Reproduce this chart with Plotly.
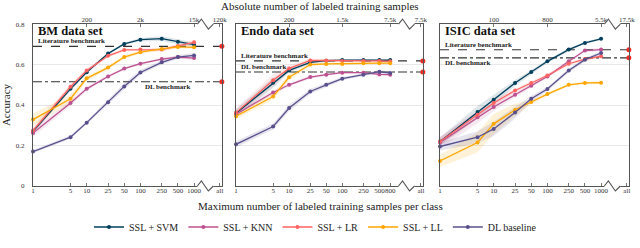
import plotly.graph_objects as go

# ---------------- data ----------------
x_bm = [1, 5, 10, 25, 50, 100, 250, 500, 1000]
x_endo = [1, 5, 10, 25, 50, 100, 250, 500, 800]
x_isic = [1, 5, 10, 25, 50, 100, 250, 500, 1000]
ALL_X = 3020  # position of the "all" tick on the log axis

bm_ticktext = ["1", "5", "10", "25", "50", "100", "250", "500", "1000", "all"]
endo_ticktext = ["1", "5", "10", "25", "50", "100", "250", "500", "800", "all"]
isic_ticktext = ["1", "5", "10", "25", "50", "100", "250", "500", "1000", "all"]

bm_top_vals = [10, 100, 1000, ALL_X]
bm_top_text = ["200", "2k", "15k", "120k"]
endo_top_vals = [10, 100, 800, ALL_X]
endo_top_text = ["200", "1.5k", "7.5k", "7.5k"]
isic_top_vals = [10, 100, 1000, ALL_X]
isic_top_text = ["100", "800", "5.5k", "17.5k"]

# BM
bm_svm = [0.270, 0.480, 0.562, 0.654, 0.702, 0.723, 0.728, 0.712, 0.698]
bm_knn = [0.262, 0.410, 0.480, 0.541, 0.580, 0.604, 0.627, 0.637, 0.632]
bm_lr = [0.274, 0.490, 0.570, 0.643, 0.672, 0.674, 0.674, 0.692, 0.710]
bm_ll = [0.328, 0.431, 0.532, 0.585, 0.637, 0.661, 0.677, 0.687, 0.685]
bm_dl = [0.170, 0.241, 0.313, 0.414, 0.492, 0.561, 0.611, 0.637, 0.645]
bm_svm_sd = [0.010, 0.010, 0.008, 0.006, 0.006, 0.008, 0.012, 0.012, 0.012]
bm_knn_sd = [0.020, 0.012, 0.010, 0.008, 0.006, 0.006, 0.006, 0.008, 0.010]
bm_lr_sd = [0.020, 0.015, 0.010, 0.008, 0.006, 0.006, 0.008, 0.010, 0.012]
bm_ll_sd = [0.030, 0.020, 0.012, 0.010, 0.008, 0.008, 0.008, 0.008, 0.008]
bm_dl_sd = [0.008, 0.008, 0.008, 0.012, 0.015, 0.012, 0.010, 0.010, 0.012]

# Endo
endo_svm = [0.360, 0.510, 0.571, 0.611, 0.619, 0.622, 0.622, 0.622, 0.622]
endo_knn = [0.355, 0.462, 0.500, 0.538, 0.550, 0.560, 0.560, 0.551, 0.550]
endo_lr = [0.363, 0.522, 0.581, 0.620, 0.620, 0.618, 0.618, 0.618, 0.616]
endo_ll = [0.345, 0.442, 0.537, 0.600, 0.603, 0.603, 0.606, 0.607, 0.607]
endo_dl = [0.206, 0.294, 0.385, 0.467, 0.500, 0.530, 0.550, 0.565, 0.558]
endo_svm_sd = [0.020, 0.025, 0.010, 0.008, 0.006, 0.005, 0.005, 0.005, 0.005]
endo_knn_sd = [0.012, 0.010, 0.008, 0.008, 0.006, 0.006, 0.006, 0.006, 0.006]
endo_lr_sd = [0.020, 0.030, 0.015, 0.010, 0.006, 0.006, 0.006, 0.006, 0.006]
endo_ll_sd = [0.015, 0.015, 0.015, 0.008, 0.006, 0.006, 0.006, 0.006, 0.006]
endo_dl_sd = [0.015, 0.015, 0.015, 0.012, 0.010, 0.008, 0.006, 0.008, 0.008]

# ISIC
isic_svm = [0.220, 0.365, 0.426, 0.509, 0.563, 0.616, 0.674, 0.707, 0.727]
isic_knn = [0.215, 0.340, 0.390, 0.451, 0.495, 0.541, 0.616, 0.669, 0.674]
isic_lr = [0.220, 0.352, 0.410, 0.472, 0.509, 0.546, 0.604, 0.627, 0.641]
isic_ll = [0.124, 0.215, 0.307, 0.376, 0.415, 0.454, 0.500, 0.509, 0.510]
isic_dl = [0.195, 0.241, 0.282, 0.363, 0.431, 0.479, 0.571, 0.624, 0.657]
isic_svm_sd = [0.020, 0.030, 0.025, 0.015, 0.010, 0.008, 0.008, 0.006, 0.006]
isic_knn_sd = [0.030, 0.030, 0.020, 0.012, 0.010, 0.008, 0.008, 0.008, 0.008]
isic_lr_sd = [0.020, 0.020, 0.015, 0.010, 0.008, 0.008, 0.008, 0.008, 0.008]
isic_ll_sd = [0.030, 0.050, 0.050, 0.030, 0.010, 0.008, 0.006, 0.006, 0.006]
isic_dl_sd = [0.020, 0.030, 0.035, 0.030, 0.015, 0.010, 0.010, 0.010, 0.010]

lit_bench = [0.690, 0.618, 0.673]
dl_bench = [0.515, 0.563, 0.633]

method_names = ["SSL + SVM", "SSL + KNN", "SSL + LR", "SSL + LL", "DL baseline"]
method_colors = ["#003f5c", "#bc5090", "#ff6361", "#ffa600", "#58508d"]
band_colors = ["rgba(0,63,92,0.13)", "rgba(188,80,144,0.13)", "rgba(255,99,97,0.13)",
               "rgba(255,166,0,0.15)", "rgba(88,80,141,0.15)"]

panel_titles = ["BM data set", "Endo data set", "ISIC data set"]
# --------------------------------------

FONT = "Liberation Serif"
FRAME = "#555555"
X_RANGE = [0, 3.52]
BREAK_FRAC = 3.21 / 3.52
Y_DOMAIN = [0.25, 0.903]
X_DOMAINS = [[33 / 640, 222 / 640], [236 / 640, 423 / 640], [440 / 640, 629 / 640]]

panels = [
    (x_bm, [bm_svm, bm_knn, bm_lr, bm_ll, bm_dl],
     [bm_svm_sd, bm_knn_sd, bm_lr_sd, bm_ll_sd, bm_dl_sd], bm_ticktext, bm_top_vals, bm_top_text),
    (x_endo, [endo_svm, endo_knn, endo_lr, endo_ll, endo_dl],
     [endo_svm_sd, endo_knn_sd, endo_lr_sd, endo_ll_sd, endo_dl_sd], endo_ticktext, endo_top_vals, endo_top_text),
    (x_isic, [isic_svm, isic_knn, isic_lr, isic_ll, isic_dl],
     [isic_svm_sd, isic_knn_sd, isic_lr_sd, isic_ll_sd, isic_dl_sd], isic_ticktext, isic_top_vals, isic_top_text),
]

fig = go.Figure()
layout_axes = {}
shapes = []
annotations = []

for p, (xs, means, sds, ticktext, top_vals, top_text) in enumerate(panels):
    n = p + 1
    xa = "x" if n == 1 else f"x{n}"
    ya = "y" if n == 1 else f"y{n}"
    xtop = f"x{n + 3}"

    # bands
    for m in range(5):
        up = [v + s for v, s in zip(means[m], sds[m])]
        lo = [v - s for v, s in zip(means[m], sds[m])]
        fig.add_trace(go.Scatter(
            x=xs + xs[::-1], y=up + lo[::-1], fill="toself", fillcolor=band_colors[m],
            line=dict(width=0), mode="lines", hoverinfo="skip", showlegend=False,
            xaxis=xa, yaxis=ya))

    # benchmarks
    for val, dash in ((lit_bench[p], "dash"), (dl_bench[p], "dashdot")):
        fig.add_trace(go.Scatter(
            x=[1, ALL_X * 1.09], y=[val, val], mode="lines",
            line=dict(color="#333333", width=1.1, dash=dash),
            showlegend=False, hoverinfo="skip", xaxis=xa, yaxis=ya, cliponaxis=False))
    fig.add_trace(go.Scatter(
        x=[ALL_X * 1.09, ALL_X * 1.09], y=[lit_bench[p], dl_bench[p]], mode="markers",
        marker=dict(color="#ee2a24", size=5), showlegend=False, hoverinfo="skip",
        xaxis=xa, yaxis=ya, cliponaxis=False))

    # lines
    for m in range(5):
        fig.add_trace(go.Scatter(
            x=xs, y=means[m], mode="lines+markers", name=method_names[m],
            line=dict(color=method_colors[m], width=1.3),
            marker=dict(color=method_colors[m], size=4),
            legendgroup=method_names[m], showlegend=(p == 0),
            xaxis=xa, yaxis=ya, cliponaxis=False))

    # invisible trace for the top axis
    fig.add_trace(go.Scatter(x=[ALL_X], y=[0], mode="markers", marker=dict(opacity=0),
                             showlegend=False, hoverinfo="skip", xaxis=xtop, yaxis=ya))

    xkey = "xaxis" if n == 1 else f"xaxis{n}"
    ykey = "yaxis" if n == 1 else f"yaxis{n}"
    layout_axes[xkey] = dict(
        type="log", range=X_RANGE, domain=X_DOMAINS[p], anchor=ya, automargin=False,
        tickmode="array", tickvals=xs + [ALL_X], ticktext=ticktext, tickangle=0,
        ticks="inside", ticklen=3, tickcolor="#777777", tickwidth=0.8,
        ticklabelstandoff=-2,
        showline=True, mirror=True, linecolor=FRAME, linewidth=1.1,
        showgrid=False, zeroline=False,
        tickfont=dict(family=FONT, size=7, color="#333333"))
    layout_axes[f"xaxis{n + 3}"] = dict(
        type="log", range=X_RANGE, domain=X_DOMAINS[p], anchor=ya, overlaying=xa,
        side="top", tickmode="array", tickvals=top_vals, ticktext=top_text, automargin=False,
        tickangle=0, ticks="inside", ticklen=3, tickcolor="#777777", tickwidth=0.8,
        showline=False, showgrid=False, zeroline=False,
        tickfont=dict(family=FONT, size=7, color="#333333"))
    layout_axes[ykey] = dict(
        range=[0, 0.8], domain=Y_DOMAIN, anchor=xa, automargin=False,
        tickmode="array", tickvals=[0, 0.2, 0.4, 0.6, 0.8],
        ticktext=["0", "0.2", "0.4", "0.6", "0.8"], showticklabels=(p == 0),
        showgrid=True, gridcolor="#e8e8e8", gridwidth=1, zeroline=False,
        showline=True, mirror=True, linecolor=FRAME, linewidth=1.1,
        ticks="", ticklabelstandoff=6,
        tickfont=dict(family=FONT, size=7, color="#333333"),
        title=dict(text="Accuracy" if p == 0 else "", font=dict(family=FONT, size=11, color="#222222"),
                   standoff=6))

    # axis breaks
    for yd in (0, 1):
        shapes.append(dict(type="line", xref=f"{xa} domain", yref=f"{ya} domain",
                           xsizemode="pixel", ysizemode="pixel", xanchor=BREAK_FRAC, yanchor=yd,
                           x0=-8, x1=8, y0=0, y1=0, line=dict(color="white", width=3), layer="above"))
        shapes.append(dict(type="path", xref=f"{xa} domain", yref=f"{ya} domain",
                           xsizemode="pixel", ysizemode="pixel", xanchor=BREAK_FRAC, yanchor=yd,
                           path="M-8,0 L-4,5 L3,-5 L8,0", line=dict(color=FRAME, width=1.1),
                           layer="above"))

    # panel title
    annotations.append(dict(text=f"<b>{panel_titles[p]}</b>", xref=f"{xa} domain", yref=f"{ya} domain",
                            x=0.015, y=0.955, xanchor="left", yanchor="middle", showarrow=False,
                            font=dict(family=FONT, size=12.5, color="#111111")))
    # benchmark labels
    annotations.append(dict(text="<b>Literature benchmark</b>", xref=f"{xa} domain", yref=ya,
                            x=0.015, y=lit_bench[p], xanchor="left", yanchor="bottom", yshift=-1,
                            showarrow=False, font=dict(family=FONT, size=7, color="#222222")))
    if p == 0:
        dlx, dly_anchor, dly_shift = 0.58, "top", 1
    elif p == 1:
        dlx, dly_anchor, dly_shift = 0.015, "bottom", -1
    else:
        dlx, dly_anchor, dly_shift = 0.015, "top", 1
    annotations.append(dict(text="<b>DL benchmark</b>", xref=f"{xa} domain", yref=ya,
                            x=dlx, y=dl_bench[p], xanchor="left", yanchor=dly_anchor, yshift=dly_shift,
                            showarrow=False, font=dict(family=FONT, size=7, color="#222222")))

annotations.append(dict(text="Absolute number of labeled training samples", xref="paper", yref="paper",
                        x=0.5, y=1 - 6 / 248, xanchor="center", yanchor="middle", showarrow=False,
                        font=dict(family=FONT, size=11, color="#222222")))
annotations.append(dict(text="Maximum number of labeled training samples per class", xref="paper", yref="paper",
                        x=0.5, y=1 - 206 / 248, xanchor="center", yanchor="middle", showarrow=False,
                        font=dict(family=FONT, size=11, color="#222222")))

fig.update_layout(
    width=640, height=248,
    margin=dict(l=0, r=0, t=0, b=0, autoexpand=False),
    paper_bgcolor="white", plot_bgcolor="white",
    font=dict(family=FONT, size=10, color="#222222"),
    showlegend=True,
    legend=dict(orientation="h", x=0.493, y=1 - 227 / 248, xanchor="center", yanchor="middle",
                font=dict(family=FONT, size=10, color="#222222"), itemwidth=30,
                bgcolor="rgba(0,0,0,0)", tracegroupgap=0),
    shapes=shapes, annotations=annotations,
    **layout_axes,
)

fig.write_html("out.html", config={"displayModeBar": False},
               post_script="document.body.style.margin='0';")
